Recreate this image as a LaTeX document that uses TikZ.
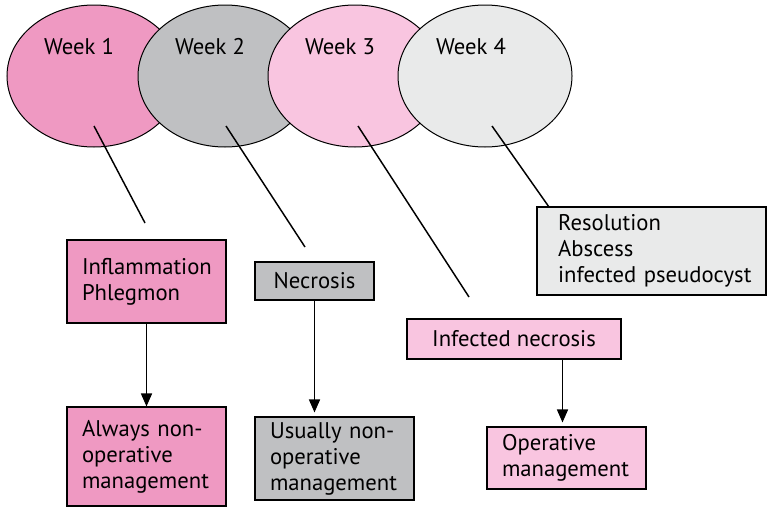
\documentclass[tikz,border=0pt]{standalone}
\usepackage{fontspec}
\setmainfont{PT Sans}
\usetikzlibrary{shapes.geometric,arrows.meta}

\definecolor{pinkdeep}{RGB}{239,153,194}
\definecolor{greymid}{RGB}{191,192,194}
\definecolor{pinklight}{RGB}{249,197,224}
\definecolor{greylight}{RGB}{233,234,234}

\tikzset{
  week/.style={ellipse, draw, line width=0.75pt, minimum width=130.5pt, minimum height=106.5pt},
  stagebox/.style={draw, line width=0.8pt, inner xsep=11.25pt, inner ysep=0pt, align=left, text width=96.75pt},
  singlebox/.style={draw, line width=0.8pt, inner sep=0pt, align=center},
  link/.style={line width=1.1pt},
  flow/.style={line width=1.1pt, -{Triangle[length=9.75pt,width=8.25pt]}}
}

\begin{document}
\begin{tikzpicture}[x=0.75pt, y=-0.75pt, every node/.style={font=\fontsize{17}{19.5}\selectfont}]
    \useasboundingbox (0,0) rectangle (767,507);

    % weeks
    \node [week, fill=pinkdeep] (Week1) at (94,76) {};
    \node (Week1Text) at (79,47) {Week 1};
    \node [week, fill=greymid] (Week2) at (225,76) {};
    \node (Week2Text) at (210,47) {Week 2};
    \node [week, fill=pinklight] (Week3) at (355,76) {};
    \node (Week3Text) at (340,47) {Week 3};
    \node [week, fill=greylight] (Week4) at (485,76) {};
    \node (Week4Text) at (471,47) {Week 4};

    % stages
    \node [stagebox, fill=pinkdeep, minimum height=62.25pt] (Inflammation) at (146.5,281.5) {Inflammation\\Phlegmon};
    \node [stagebox, fill=pinkdeep, minimum height=74.25pt] (AlwaysNonOp) at (146.5,456.5) {Always non-\\operative\\management};
    \node [singlebox, fill=greymid, minimum width=89.25pt, minimum height=28.5pt] (Necrosis) at (314.5,281) {Necrosis};
    \node [stagebox, fill=greymid, minimum height=62.25pt] (UsuallyNonOp) at (334.5,458.5) {Usually non-\\operative\\management};
    \node [singlebox, fill=pinklight, minimum width=160.5pt, minimum height=30pt] (InfNecrosis) at (514,339) {Infected necrosis};
    \node [stagebox, fill=pinklight, minimum height=46.5pt] (Operative) at (566.5,458) {Operative\\management};
    \node [stagebox, fill=greylight, text width=140pt, minimum width=171.75pt, minimum height=66pt] (Outcome) at (651.5,251) {Resolution\\Abscess\\\mbox{infected pseudocyst}};

    % links from the weeks
    \coordinate (Week1In) at (94,126);
    \coordinate (Week1End) at (145,223);
    \coordinate (Week2In) at (226,126);
    \coordinate (Week2End) at (305,247);
    \coordinate (Week3In) at (358,126);
    \coordinate (Week3End) at (469,297);
    \coordinate (Week4In) at (492,126);
    \coordinate (Week4End) at (549,207);

    \path [link] (Week1In) edge (Week1End);
    \path [link] (Week2In) edge (Week2End);
    \path [link] (Week3In) edge (Week3End);
    \path [link] (Week4In) edge (Week4End);

    \draw [flow] (Inflammation.south) -- (AlwaysNonOp.north);
    \draw [flow, shorten >=3pt] (Necrosis.south) -- (Necrosis.south |- UsuallyNonOp.north);
    \draw [flow, shorten >=3pt] ([xshift=-3pt]InfNecrosis.south -| Operative.north) -- ([xshift=-3pt]Operative.north);
\end{tikzpicture}
\end{document}
